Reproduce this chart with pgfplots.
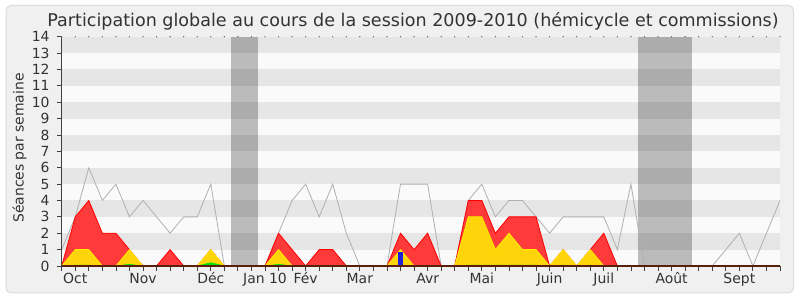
\documentclass[border=0pt]{standalone}
\usepackage{fontspec}
\setmainfont{DejaVu Sans}
\usepackage{pgfplots}
\usepackage{pgfplotstable}
\pgfplotsset{compat=1.18}
\definecolor{panel}{HTML}{F0F0F0}
\definecolor{panelborder}{HTML}{DCDCDC}
\definecolor{banddark}{HTML}{E6E6E6}
\definecolor{bandlight}{HTML}{FAFAFA}
\definecolor{redfill}{HTML}{FF3A3A}
\definecolor{rededge}{HTML}{FF0000}
\definecolor{yellowfill}{HTML}{FFD40A}
\definecolor{yellowedge}{HTML}{FFEE00}
\definecolor{greenc}{HTML}{00E000}
\definecolor{bluec}{HTML}{2222DD}
\definecolor{grayline}{HTML}{B0B0B0}
\definecolor{axisc}{HTML}{404040}
\definecolor{xaxisc}{HTML}{5A1E0A}
\definecolor{textc}{HTML}{333333}

\pgfplotstableread{
x gray red yellow green
0 1 0 0 0
1 3 3 1 0.05
2 6 4 1 0.05
3 4 2 0 0
4 5 2 0 0
5 3 1 1 0.1
6 4 0 0 0
7 3 0 0 0
8 2 1 0 0
9 3 0 0 0
10 3 0 0 0
11 5 1 1 0.2
12 0 0 0 0
13 0 0 0 0
14 0 0 0 0
15 0 0 0 0
16 2 2 1 0.1
17 4 1 0 0
18 5 0 0 0
19 3 1 0 0
20 5 1 0 0
21 2 0 0 0
22 0 0 0 0
23 0 0 0 0
24 0 0 0 0
25 5 2 1 0
26 5 1 0 0
27 5 2 0 0
28 0 0 0 0
29 0 0 0 0
30 4 4 3 0.05
31 5 4 3 0.05
32 3 2 1 0.05
33 4 3 2 0.05
34 4 3 1 0.05
35 3 3 1 0.05
36 2 0 0 0
37 3 1 1 0.05
38 3 0 0 0
39 3 1 1 0.05
40 3 2 0 0
41 1 0 0 0
42 5 0 0 0
43 0 0 0 0
44 0 0 0 0
45 0 0 0 0
46 0 0 0 0
47 0 0 0 0
48 0 0 0 0
49 1 0 0 0
50 2 0 0 0
51 0 0 0 0
52 2 0 0 0
53 4 0 0 0
}\datatable

\begin{document}
\begin{tikzpicture}
\fill[white] (0bp,0bp) rectangle (800bp,300bp);
\draw[panelborder, fill=panel, rounded corners=5bp, line width=1bp] (6bp,7bp) rectangle (793.5bp,294.5bp);
\node[anchor=base, font=\fontsize{17.6}{17.6}\selectfont, text=textc, inner sep=0pt] at (413bp,273bp) {Participation globale au cours de la session 2009-2010 (hémicycle et commissions)};
\node[rotate=90, anchor=base, font=\fontsize{14}{14}\selectfont, text=textc, inner sep=0pt] at (23.5bp,152bp) {Séances par semaine};
\begin{axis}[
  at={(61.7bp,34bp)}, anchor=origin,
  width=718.3bp, height=229.3bp, scale only axis,
  xmin=0, xmax=53, ymin=0, ymax=14,
  clip=false, axis on top,
  axis lines*=left,
  x axis line style={color=xaxisc, line width=1.2bp},
  y axis line style={color=axisc, line width=1bp},
  tick align=outside,
  major tick length=5bp, minor tick length=5bp,
  tick style={color=axisc, line width=0.8bp},
  xtick={1,6,11,15,18,22,27,31,36,40,45,50},
  xticklabels={Oct,Nov,Déc,Jan 10,Fév,Mar,Avr,Mai,Juin,Juil,Août,Sept},
  minor xtick={0,...,53},
  ytick={0,...,14},
  /pgf/number format/assume math mode=true,
  ticklabel style={font=\fontsize{14}{14}\selectfont, text=textc},
  xticklabel style={inner sep=0pt, text height=10.5bp, text depth=3bp, yshift=-2bp},
  yticklabel style={inner sep=0pt, xshift=-7bp},
]
\fill[bandlight] (axis cs:0,0) rectangle (axis cs:53,14);
\fill[banddark] (axis cs:0,1) rectangle (axis cs:53,2);
\fill[banddark] (axis cs:0,3) rectangle (axis cs:53,4);
\fill[banddark] (axis cs:0,5) rectangle (axis cs:53,6);
\fill[banddark] (axis cs:0,7) rectangle (axis cs:53,8);
\fill[banddark] (axis cs:0,9) rectangle (axis cs:53,10);
\fill[banddark] (axis cs:0,11) rectangle (axis cs:53,12);
\fill[banddark] (axis cs:0,13) rectangle (axis cs:53,14);
\fill[black, opacity=0.25] (axis cs:12.5,0) rectangle (axis cs:14.5,14);
\fill[black, opacity=0.25] (axis cs:42.5,0) rectangle (axis cs:46.5,14);
\addplot[grayline, line width=0.8bp, mark=none] table[x=x, y=gray] {\datatable};
\addplot[draw=rededge, fill=redfill, line width=0.8bp, mark=none] table[x=x, y=red] {\datatable} \closedcycle;
\addplot[draw=yellowedge, fill=yellowfill, line width=0.8bp, mark=none] table[x=x, y=yellow] {\datatable} \closedcycle;
\addplot[draw=greenc, fill=greenc, line width=0.6bp, mark=none] table[x=x, y=green] {\datatable} \closedcycle;
\addplot[ybar, bar width=0.3, fill=bluec, draw=none] coordinates {(25,0.85)};
\addplot[only marks, mark=*, mark size=0.4bp, black!60] table[x=x, y expr=14] {\datatable};
\end{axis}
\pgfresetboundingbox
\useasboundingbox (0bp,0bp) rectangle (800bp,300bp);
\end{tikzpicture}
\end{document}
